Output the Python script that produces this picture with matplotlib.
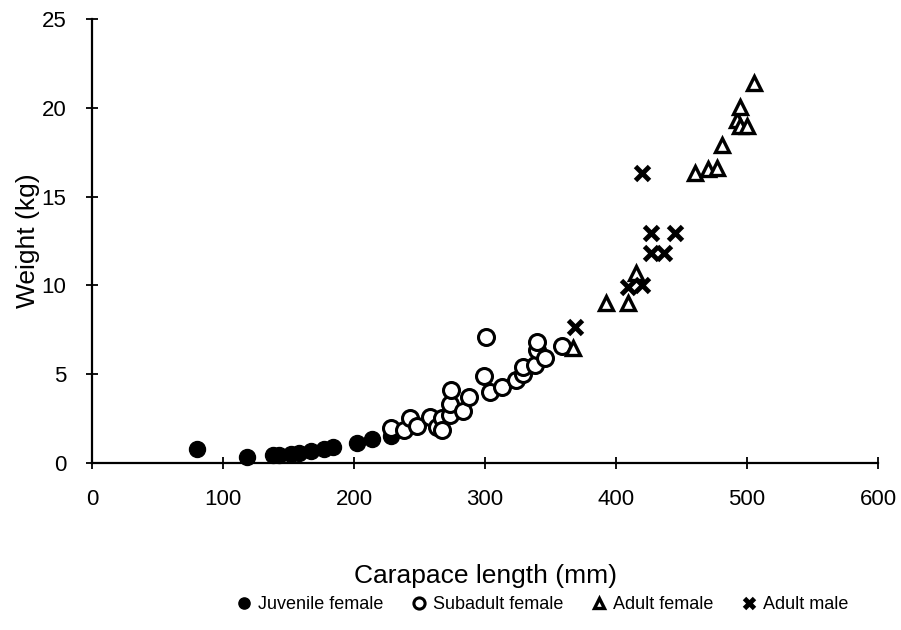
import matplotlib
matplotlib.use('Agg')
from matplotlib import pyplot as plt

plt.rcParams['font.family'] = ['Liberation Sans', 'DejaVu Sans']

# values
juv_x = [80, 118, 138, 143, 152, 158, 167, 177, 184, 202, 214, 228]
juv_y = [0.77, 0.32, 0.45, 0.45, 0.52, 0.55, 0.68, 0.79, 0.92, 1.14, 1.35, 1.52]

sub_x = [228, 238, 243, 248, 258, 263, 267, 267, 273, 273, 274, 283, 288,
         299, 301, 304, 313, 324, 329, 329, 338, 340, 340, 346, 359]
sub_y = [1.99, 1.86, 2.52, 2.08, 2.61, 2.05, 2.52, 1.86, 2.70, 3.32, 4.11, 2.93, 3.70,
         4.90, 7.08, 4.01, 4.26, 4.67, 5.01, 5.42, 5.52, 6.36, 6.83, 5.90, 6.59]

af_x = [367, 392, 409, 415, 460, 470, 477, 481, 492, 495, 495, 500, 505]
af_y = [6.5, 9.0, 9.0, 10.7, 16.35, 16.54, 16.63, 17.9, 19.3, 20.06, 18.97, 18.97, 21.41]

am_x = [369, 409, 420, 420, 427, 427, 437, 445]
am_y = [7.68, 9.93, 10.02, 16.31, 12.93, 11.8, 11.81, 12.93]

x_ticks = [0, 100, 200, 300, 400, 500, 600]
y_ticks = [0, 5, 10, 15, 20, 25]

fig = plt.figure(figsize=(9.01, 6.3), dpi=100)
ax = fig.add_axes([0.1021, 0.265, 0.8724, 0.705])

ax.plot(juv_x, juv_y, 'o', color='black', ms=11.5, label='Juvenile female')
ax.plot(sub_x, sub_y, 'o', mfc='white', mec='black', mew=2.2, ms=11.5, label='Subadult female')
ax.plot(af_x, af_y, '^', mfc='white', mec='black', mew=2.4, ms=10.5, label='Adult female')
ax.plot(am_x, am_y, 'x', color='black', mew=3.5, ms=10, label='Adult male')

ax.set_xlim(0, 600)
ax.set_ylim(0, 25)
ax.set_xticks(x_ticks)
ax.set_yticks(y_ticks)
ax.spines['top'].set_visible(False)
ax.spines['right'].set_visible(False)
for s in ['left', 'bottom']:
    ax.spines[s].set_linewidth(1.6)
ax.tick_params(direction='inout', length=9, width=1.3, labelsize=16)
ax.tick_params(axis='x', pad=14)
ax.tick_params(axis='y', pad=14)
ax.set_xlabel('Carapace length (mm)', fontsize=19, labelpad=39)
ax.set_ylabel('Weight (kg)', fontsize=19, labelpad=1)
for c in ax.lines:
    c.set_clip_on(False)

leg = fig.legend(loc='center', bbox_to_anchor=(0.602, 0.04), ncol=4, frameon=False,
                 fontsize=13, markerscale=0.7, handlelength=0.8, handletextpad=0.4,
                 columnspacing=1.55)

fig.savefig('out.png', dpi=100)
